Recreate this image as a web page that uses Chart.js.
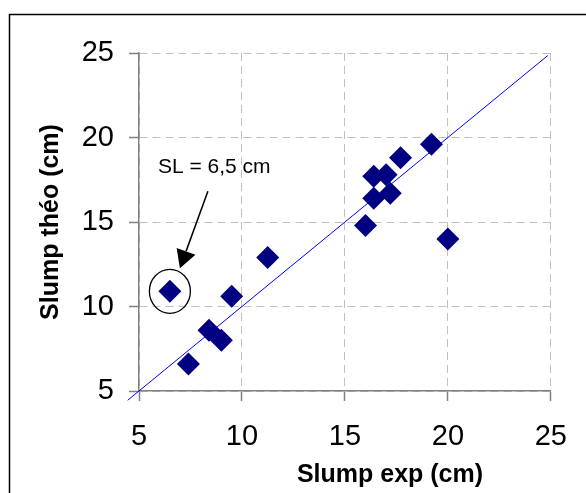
<!DOCTYPE html>
<html>
<head>
<meta charset="utf-8">
<script src="https://cdn.jsdelivr.net/npm/chart.js@4"></script>
<style>
html, body { margin: 0; padding: 0; background: #fff; }
</style>
</head>
<body>
<canvas id="myCanvas" width="586" height="493"></canvas>
<script>
// Données
let slumpExp  = [6.5, 7.4, 8.4, 9.0, 9.5, 11.25, 16.0, 16.4, 16.4, 17.0, 17.2, 17.7, 19.2, 20.0];
let slumpTheo = [10.9, 6.6, 8.6, 8.0, 10.6, 12.9, 14.8, 16.4, 17.7, 17.8, 16.7, 18.8, 19.6, 14.0];

// droite y = x
let droiteX = [4.45, 24.85];
let droiteY = [4.45, 24.85];

let graduations = [5, 10, 15, 20, 25];

let titreX = 'Slump exp (cm)';
let titreY = 'Slump théo (cm)';
let noteTexte = 'SL = 6,5 cm';
let notePoint = 0; // point entouré

const police = "'Liberation Sans', Arial, sans-serif";

// cadre + titre X + annotation
const dessins = {
    id: 'dessins',
    beforeDraw(chart) {
        const ctx = chart.ctx;
        ctx.save();
        ctx.fillStyle = '#fff';
        ctx.fillRect(0, 0, chart.width, chart.height);
        ctx.strokeStyle = '#000';
        ctx.lineWidth = 1.5;
        ctx.beginPath();
        ctx.moveTo(9.5, chart.height + 5);
        ctx.lineTo(9.5, 14.5);
        ctx.lineTo(chart.width + 5, 14.5);
        ctx.stroke();
        ctx.restore();
    },
    afterDraw(chart) {
        const ctx = chart.ctx;
        const xs = chart.scales.x, ys = chart.scales.y;
        ctx.save();
        ctx.fillStyle = '#000';
        ctx.font = 'bold 25px ' + police;
        ctx.textAlign = 'center';
        ctx.textBaseline = 'middle';
        ctx.fillText(titreX, 390, 475);

        const px = xs.getPixelForValue(slumpExp[notePoint]);
        const py = ys.getPixelForValue(slumpTheo[notePoint]);
        ctx.strokeStyle = '#000';
        ctx.lineWidth = 1.3;
        ctx.beginPath();
        ctx.ellipse(px, py, 20.5, 22, 0, 0, 2 * Math.PI);
        ctx.stroke();

        ctx.font = '21px ' + police;
        ctx.textAlign = 'left';
        ctx.textBaseline = 'alphabetic';
        ctx.fillText(noteTexte, px - 12, py - 118);

        // flèche
        const x1 = px + 38, y1 = py - 100, x2 = px + 10, y2 = py - 23;
        const len = Math.hypot(x2 - x1, y2 - y1);
        const dx = (x2 - x1) / len, dy = (y2 - y1) / len;
        const bx = x2 - dx * 18, by = y2 - dy * 18;
        ctx.lineWidth = 1.5;
        ctx.beginPath();
        ctx.moveTo(x1, y1);
        ctx.lineTo(bx, by);
        ctx.stroke();
        ctx.beginPath();
        ctx.moveTo(x2, y2);
        ctx.lineTo(bx - dy * 10, by + dx * 10);
        ctx.lineTo(bx + dy * 10, by - dx * 10);
        ctx.closePath();
        ctx.fill();
        ctx.restore();
    }
};

const grille = {
    color: '#c0c0c0',
    lineWidth: 1,
    tickColor: '#808080',
    tickWidth: 1.5,
    tickLength: 10
};
const bord = { display: true, color: '#808080', width: 1.5, dash: [8, 5] };

let chart = new Chart(document.getElementById('myCanvas'), {
    type: 'scatter',
    data: {
        datasets: [{
            label: 'Slump',
            data: slumpExp.map((x, i) => ({ x: x, y: slumpTheo[i] })),
            pointStyle: 'rectRot',
            pointRadius: 11.5,
            pointBackgroundColor: '#000080',
            pointBorderColor: '#000080',
            pointBorderWidth: 0,
            order: 0
        }, {
            type: 'line',
            label: 'y = x',
            data: droiteX.map((x, i) => ({ x: x, y: droiteY[i] })),
            borderColor: '#0000ff',
            borderWidth: 1,
            pointRadius: 0,
            fill: false,
            clip: false,
            order: 1
        }]
    },
    options: {
        responsive: false,
        animation: false,
        layout: { padding: { left: 0, top: 53, right: 34, bottom: 0 } },
        plugins: {
            legend: { display: false },
            tooltip: { enabled: false }
        },
        scales: {
            x: {
                type: 'linear',
                min: graduations[0],
                max: graduations[graduations.length - 1],
                afterBuildTicks: s => { s.ticks = graduations.map(v => ({ value: v })); },
                afterFit: s => { s.height = 102; },
                grid: grille,
                border: bord,
                ticks: { color: '#000', padding: 19, font: { family: police, size: 29 } }
            },
            y: {
                type: 'linear',
                min: graduations[0],
                max: graduations[graduations.length - 1],
                afterBuildTicks: s => { s.ticks = graduations.map(v => ({ value: v })); },
                afterFit: s => { s.width = 139; },
                grid: grille,
                border: bord,
                ticks: { color: '#000', padding: 15, font: { family: police, size: 29 } },
                title: {
                    display: true,
                    text: titreY,
                    color: '#000',
                    padding: { top: 36, bottom: 0 },
                    font: { family: police, size: 25, weight: 'bold' }
                }
            }
        }
    },
    plugins: [dessins]
});
</script>
</body>
</html>
